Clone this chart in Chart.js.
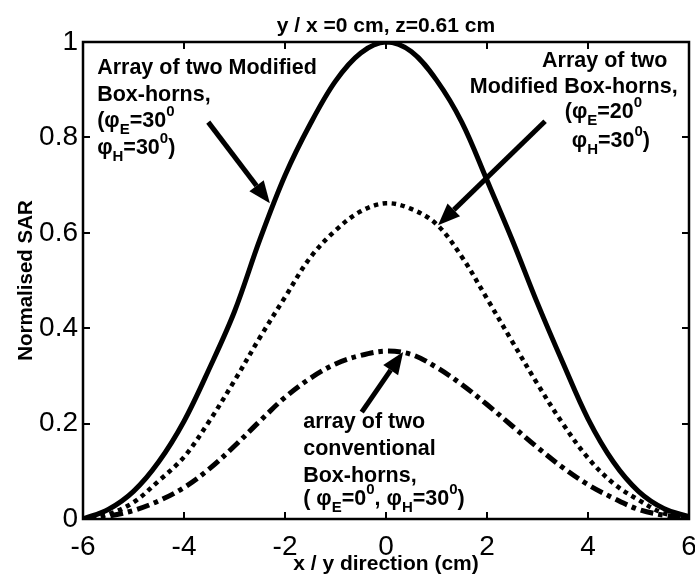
<!DOCTYPE html>
<html>
<head>
<meta charset="utf-8">
<script src="https://cdn.jsdelivr.net/npm/chart.js@4.4.1/dist/chart.umd.min.js"></script>
<style>
  html, body { margin: 0; padding: 0; background: #fff; }
  #wrap { width: 695px; height: 575px; }
</style>
</head>
<body>
<div id="wrap"><canvas id="c" width="695" height="575"></canvas></div>
<script>
// ---- data ----
const xPositions = [-6, -5.5, -5, -4.5, -4, -3.5, -3, -2.5, -2, -1.5, -1, -0.5, 0, 0.5, 1, 1.5, 2, 2.5, 3, 3.5, 4, 4.5, 5, 5.5, 6];
const modified30 = [0, 0.02, 0.058, 0.12, 0.205, 0.315, 0.435, 0.585, 0.72, 0.828, 0.918, 0.977, 1.0, 0.98, 0.92, 0.832, 0.71, 0.585, 0.452, 0.328, 0.21, 0.12, 0.058, 0.022, 0.005];
const modified20 = [0, 0.01, 0.035, 0.08, 0.13, 0.205, 0.29, 0.38, 0.465, 0.548, 0.605, 0.645, 0.662, 0.65, 0.618, 0.55, 0.462, 0.372, 0.283, 0.2, 0.128, 0.075, 0.04, 0.012, 0.003];
const conventional = [0, 0.006, 0.018, 0.038, 0.066, 0.105, 0.153, 0.205, 0.255, 0.295, 0.325, 0.343, 0.352, 0.345, 0.318, 0.282, 0.24, 0.195, 0.15, 0.108, 0.072, 0.044, 0.02, 0.008, 0.002];
const xTickValues = [-6, -4, -2, 0, 2, 4, 6];
const yTickValues = [0, 0.2, 0.4, 0.6, 0.8, 1];
const chartTitle = 'y / x =0 cm, z=0.61 cm';
const xTitle = 'x / y direction (cm)';
const yTitle = 'Normalised SAR';

// annotation text lines: segments [text, kind] with kind n / sub / sup; anchor in data units
const noteLines = [
  { x: -5.72, y: 0.933, segs: [['Array of two Modified', 'n']] },
  { x: -5.72, y: 0.876, segs: [['Box-horns,', 'n']] },
  { x: -5.72, y: 0.822, segs: [['(\u03c6', 'n'], ['E', 'sub'], ['=30', 'n'], ['0', 'sup']] },
  { x: -5.72, y: 0.765, segs: [['\u03c6', 'n'], ['H', 'sub'], ['=30', 'n'], ['0', 'sup'], [')', 'n']] },

  { x: 3.09, y: 0.948, segs: [['Array of two', 'n']] },
  { x: 1.66, y: 0.893, segs: [['Modified Box-horns,', 'n']] },
  { x: 3.54, y: 0.841, segs: [['(\u03c6', 'n'], ['E', 'sub'], ['=20', 'n'], ['0', 'sup']] },
  { x: 3.68, y: 0.780, segs: [['\u03c6', 'n'], ['H', 'sub'], ['=30', 'n'], ['0', 'sup'], [')', 'n']] },

  { x: -1.64, y: 0.191, segs: [['array of two', 'n']] },
  { x: -1.64, y: 0.134, segs: [['conventional', 'n']] },
  { x: -1.64, y: 0.078, segs: [['Box-horns,', 'n']] },
  { x: -1.64, y: 0.029, segs: [['( \u03c6', 'n'], ['E', 'sub'], ['=0', 'n'], ['0', 'sup'], [', \u03c6', 'n'], ['H', 'sub'], ['=30', 'n'], ['0', 'sup'], [')', 'n']] }
];
// arrows: from (x0,y0) to tip (x1,y1) in data units
const arrowFromX = [-3.52, 3.15, -0.48];
const arrowFromY = [0.832, 0.834, 0.224];
const arrowToX = [-2.30, 1.03, 0.34];
const arrowToY = [0.662, 0.616, 0.35];

const FONT = "'Liberation Sans', Arial, Helvetica, sans-serif";

function pts(arr) { return xPositions.map((x, i) => ({ x: x, y: arr[i] })); }

const frame = {
  id: 'frame',
  afterDatasetsDraw(chart) {
    const { ctx, chartArea: a, scales } = chart;
    const xs = scales.x, ys = scales.y;
    ctx.save();
    ctx.strokeStyle = '#000';
    ctx.fillStyle = '#000';
    // box
    ctx.lineWidth = 2.5;
    ctx.strokeRect(a.left, a.top, a.right - a.left, a.bottom - a.top);
    // inward ticks
    const tl = 7;
    ctx.lineWidth = 2;
    ctx.beginPath();
    xTickValues.slice(1, -1).forEach(v => {
      const px = Math.round(xs.getPixelForValue(v));
      ctx.moveTo(px, a.bottom); ctx.lineTo(px, a.bottom - tl);
      ctx.moveTo(px, a.top); ctx.lineTo(px, a.top + tl);
    });
    yTickValues.slice(1, -1).forEach(v => {
      const py = Math.round(ys.getPixelForValue(v));
      ctx.moveTo(a.left, py); ctx.lineTo(a.left + tl, py);
      ctx.moveTo(a.right, py); ctx.lineTo(a.right - tl, py);
    });
    ctx.stroke();

    // annotation text
    ctx.textBaseline = 'alphabetic';
    ctx.textAlign = 'left';
    noteLines.forEach(line => {
      let px = xs.getPixelForValue(line.x);
      const py = ys.getPixelForValue(line.y);
      line.segs.forEach(([t, kind]) => {
        let dy = 0;
        if (kind === 'n') { ctx.font = 'bold 21.5px ' + FONT; }
        else { ctx.font = 'bold 15px ' + FONT; dy = kind === 'sub' ? 7 : -11; }
        ctx.fillText(t, px, py + dy);
        px += ctx.measureText(t).width;
      });
    });

    // arrows
    for (let i = 0; i < arrowFromX.length; i++) {
      const x0 = xs.getPixelForValue(arrowFromX[i]), y0 = ys.getPixelForValue(arrowFromY[i]);
      const x1 = xs.getPixelForValue(arrowToX[i]), y1 = ys.getPixelForValue(arrowToY[i]);
      const ang = Math.atan2(y1 - y0, x1 - x0);
      const head = 22, half = 9;
      const bx = x1 - head * Math.cos(ang), by = y1 - head * Math.sin(ang);
      ctx.lineWidth = 5;
      ctx.lineCap = 'butt';
      ctx.beginPath();
      ctx.moveTo(x0, y0); ctx.lineTo(bx, by);
      ctx.stroke();
      ctx.beginPath();
      ctx.moveTo(x1, y1);
      ctx.lineTo(bx + half * Math.sin(ang), by - half * Math.cos(ang));
      ctx.lineTo(bx - half * Math.sin(ang), by + half * Math.cos(ang));
      ctx.closePath();
      ctx.fill();
    }
    ctx.restore();
  }
};

Chart.defaults.font.family = FONT;
Chart.defaults.color = '#000';

new Chart(document.getElementById('c'), {
  type: 'line',
  data: {
    datasets: [
      { label: 'Modified Box-horns (30/30)', data: pts(modified30), borderColor: '#000', borderWidth: 5, pointRadius: 0, tension: 0.35, fill: false },
      { label: 'Modified Box-horns (20/30)', data: pts(modified20), borderColor: '#000', borderWidth: 4.5, borderDash: [4.5, 4.5], pointRadius: 0, tension: 0.35, fill: false },
      { label: 'Conventional Box-horns', data: pts(conventional), borderColor: '#000', borderWidth: 5, borderDash: [13, 5, 4.5, 5], pointRadius: 0, tension: 0.35, fill: false }
    ]
  },
  options: {
    responsive: false,
    animation: false,
    layout: { padding: { left: 0, right: 6, top: 0, bottom: 0 } },
    plugins: {
      legend: { display: false },
      tooltip: { enabled: false },
      title: {
        display: true, text: chartTitle, color: '#000', fullSize: false,
        font: { size: 21, weight: 'bold', family: FONT, lineHeight: 1.2 },
        padding: { top: 14, bottom: 2.8 }
      }
    },
    scales: {
      x: {
        type: 'linear', min: -6, max: 6,
        afterBuildTicks: s => { s.ticks = xTickValues.map(v => ({ value: v })); },
        afterFit: s => { s.height = 56; s.paddingLeft = 0; s.paddingRight = 0; },
        grid: { display: false, drawTicks: false },
        border: { display: false },
        ticks: { font: { size: 28 }, color: '#000', padding: 11, maxRotation: 0, autoSkip: false },
        title: { display: true, text: xTitle, font: { size: 21, weight: 'bold', lineHeight: 1.0 }, color: '#000', padding: { top: 0, bottom: 0 } }
      },
      y: {
        type: 'linear', min: 0, max: 1,
        afterBuildTicks: s => { s.ticks = yTickValues.map(v => ({ value: v })); },
        afterFit: s => { s.width = 83; },
        grid: { display: false, drawTicks: false },
        border: { display: false },
        ticks: { font: { size: 28 }, color: '#000', padding: 5, callback: v => String(Math.round(v * 10) / 10) },
        title: { display: true, text: yTitle, font: { size: 20.5, weight: 'bold' }, color: '#000', padding: { top: 14, bottom: 0 } }
      }
    }
  },
  plugins: [frame]
});
</script>
</body>
</html>
